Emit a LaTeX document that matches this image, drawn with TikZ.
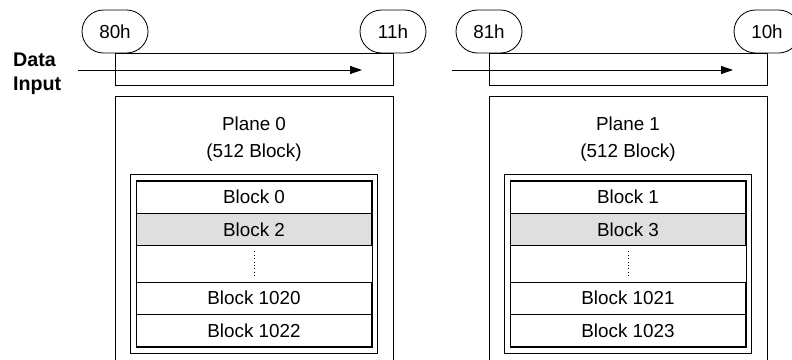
\documentclass[tikz,border=0pt]{standalone}
\usepackage{fontspec}
\setmainfont{Liberation Sans}
\usetikzlibrary{positioning}
\usetikzlibrary{shapes.misc}
\usetikzlibrary{arrows.meta}
\tikzset{cmd/.style = {draw, rounded rectangle, minimum width=1.65cm,
                       minimum height=1.075cm, inner sep=0pt,
                       font=\fontsize{13.4}{15}\selectfont},
         blk/.style = {draw, minimum width=5.875cm, minimum height=0.8cm,
                       inner sep=0pt, font=\fontsize{13.4}{15}\selectfont},
         blkgray/.style = {blk, fill=gray!25},
         flow/.style = {-{Triangle[length=0.3cm, width=0.2cm]}}}

\begin{document}
\begin{tikzpicture}[line width=0.6pt]
    \useasboundingbox (0, 0) rectangle (19.8, -8.975);
    % commands and data input
    \node [cmd] (c80) at (2.875, -0.7875) {80h};
    \node [cmd] (c11) at (9.825, -0.7875) {11h};
    \node [cmd] (c81) at (12.225, -0.7875) {81h};
    \node [cmd] (c10) at (19.175, -0.7875) {10h};
    \draw (c80.south) -- (c11.south) -- ++(0, -0.8) -| (c80.south);
    \draw (c81.south) -- (c10.south) -- ++(0, -0.8) -| (c81.south);
    \coordinate (in0) at (1.95, -1.75);
    \coordinate (out0) at (9.05, -1.75);
    \coordinate (in1) at (11.3, -1.75);
    \coordinate (out1) at (18.325, -1.75);
    \draw [flow] (in0) -- (out0);
    \draw [flow] (in1) -- (out1);
    \node [font=\fontsize{14}{17}\selectfont\bfseries, align=left, anchor=west]
        (data) at (0.2, -1.85) {Data\\Input};
    % plane 0
    \draw (2.875, -2.4) rectangle (9.825, -9.3);
    \node [align=center, font=\fontsize{13.4}{19.2}\selectfont]
        (lab0) at (6.35, -3.47) {Plane 0\\(512 Block)};
    \node [blk] (b0) at (6.35, -4.925) {Block 0};
    \node [blkgray, below=0pt of b0] (b2) {Block 2};
    \node [blk] (b1020) at (6.35, -7.45) {Block 1020};
    \node [blk, below=0pt of b1020] (b1022) {Block 1022};
    \draw (b0.north west) rectangle (b1022.south east);
    \draw ([shift={(-0.13, 0.15)}]b0.north west)
        rectangle ([shift={(0.13, -0.15)}]b1022.south east);
    \draw [dotted, line width=0.4pt, shorten <=0.13cm, shorten >=0.15cm] (b2) -- (b1020);
    % plane 1
    \draw (12.225, -2.4) rectangle (19.175, -9.3);
    \node [align=center, font=\fontsize{13.4}{19.2}\selectfont]
        (lab1) at (15.7, -3.47) {Plane 1\\(512 Block)};
    \node [blk] (b1) at (15.7, -4.925) {Block 1};
    \node [blkgray, below=0pt of b1] (b3) {Block 3};
    \node [blk] (b1021) at (15.7, -7.45) {Block 1021};
    \node [blk, below=0pt of b1021] (b1023) {Block 1023};
    \draw (b1.north west) rectangle (b1023.south east);
    \draw ([shift={(-0.13, 0.15)}]b1.north west)
        rectangle ([shift={(0.13, -0.15)}]b1023.south east);
    \draw [dotted, line width=0.4pt, shorten <=0.13cm, shorten >=0.15cm] (b3) -- (b1021);
  \end{tikzpicture}
\end{document}
